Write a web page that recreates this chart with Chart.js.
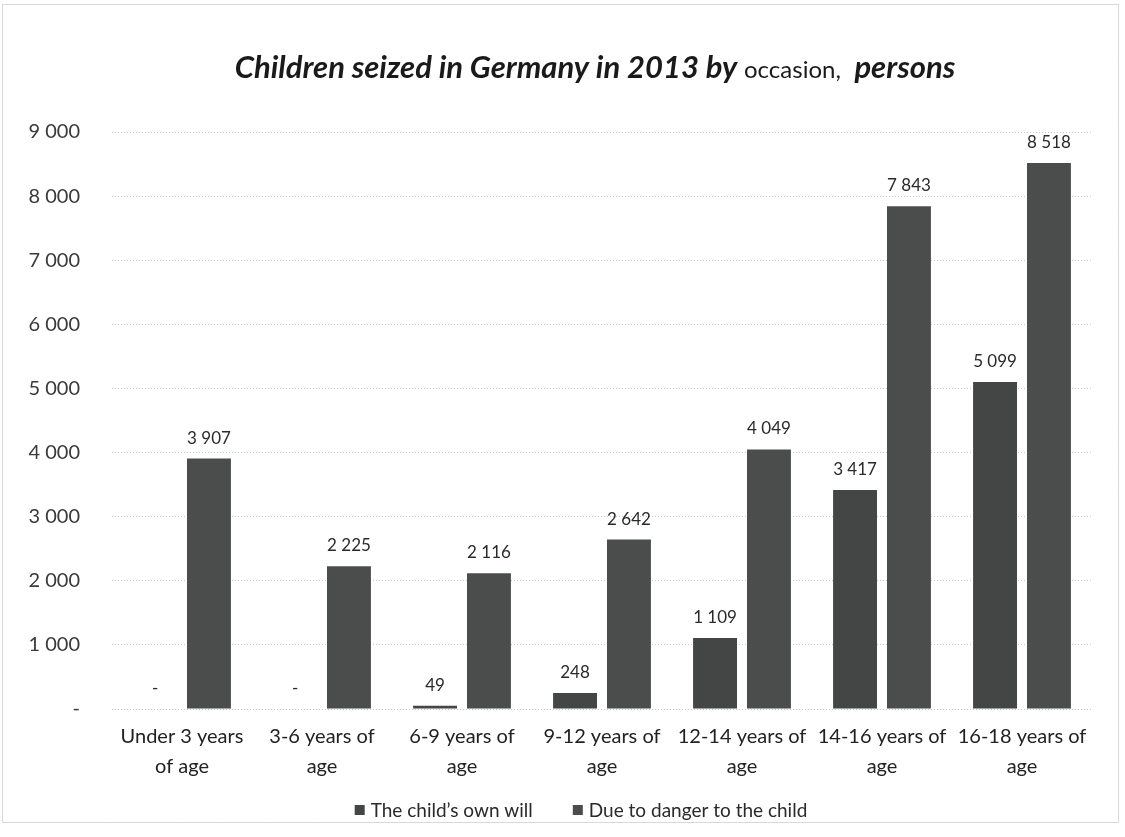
<!DOCTYPE html>
<html>
<head>
<meta charset="utf-8">
<script src="https://cdn.jsdelivr.net/npm/chart.js@4"></script>
<style>
  html, body { margin: 0; padding: 0; background: #fff; }
  #wrap { width: 1125px; height: 837px; position: relative; }
</style>
</head>
<body>
<div id="wrap"><canvas id="chart" width="1125" height="837"></canvas></div>
<script>
var ageGroups = [
    ['Under 3 years', 'of age'],
    ['3-6 years of', 'age'],
    ['6-9 years of', 'age'],
    ['9-12 years of', 'age'],
    ['12-14 years of', 'age'],
    ['14-16 years of', 'age'],
    ['16-18 years of', 'age']
];
var ownWill = [0, 0, 49, 248, 1109, 3417, 5099];
var danger = [3907, 2225, 2116, 2642, 4049, 7843, 8518];
var seriesNames = ["The child\u2019s own will", 'Due to danger to the child'];
var titleParts = [
    { text: 'Children seized in Germany in 2013 by ', font: 'italic bold 31px Lato' },
    { text: 'occasion,', font: '24px Lato' },
    { text: '  persons', font: 'italic bold 31px Lato' }
];

// 1 234 style numbers, zero shown as a dash
function fmt(v) {
    if (v === 0) return '-';
    return String(v).replace(/\B(?=(\d{3})+(?!\d))/g, ' ');
}

var frame = {
    id: 'frame',
    beforeDraw: function (chart) {
        var ctx = chart.ctx;
        ctx.save();
        ctx.strokeStyle = '#b0b0b0';
        ctx.setLineDash([1, 1]);
        ctx.lineWidth = 1;
        ctx.strokeRect(2.5, 4.5, 1116, 818);
        ctx.restore();
    }
};

var mixedTitle = {
    id: 'mixedTitle',
    afterDraw: function (chart) {
        var ctx = chart.ctx;
        ctx.save();
        ctx.fillStyle = '#1a1a1a';
        ctx.textBaseline = 'alphabetic';
        var total = 0;
        titleParts.forEach(function (p) { ctx.font = p.font; total += ctx.measureText(p.text).width; });
        var x = 595 - total / 2;
        titleParts.forEach(function (p) {
            ctx.font = p.font;
            ctx.fillText(p.text, x, 78);
            x += ctx.measureText(p.text).width;
        });
        ctx.restore();
    }
};

// legend row under the axis labels, built from the datasets
var bottomLegend = {
    id: 'bottomLegend',
    afterDraw: function (chart) {
        var ctx = chart.ctx;
        var box = 10, gap = 6, spacing = 40, y = 810;
        ctx.save();
        ctx.font = '19px Lato';
        ctx.textBaseline = 'middle';
        var items = chart.data.datasets.map(function (ds) {
            return { label: ds.label, color: ds.backgroundColor, w: box + gap + ctx.measureText(ds.label).width };
        });
        var total = items.reduce(function (s, it) { return s + it.w; }, 0) + spacing * (items.length - 1);
        var x = 581 - total / 2;
        items.forEach(function (it) {
            ctx.fillStyle = it.color;
            ctx.fillRect(x, y - box / 2, box, box);
            ctx.fillStyle = '#2a2a2a';
            ctx.fillText(it.label, x + box + gap, y + 1);
            x += it.w + spacing;
        });
        ctx.restore();
    }
};

var valueLabels = {
    id: 'valueLabels',
    afterDatasetsDraw: function (chart) {
        var ctx = chart.ctx;
        ctx.save();
        ctx.font = '17px Lato';
        ctx.fillStyle = '#2a2a2a';
        ctx.textAlign = 'center';
        ctx.textBaseline = 'bottom';
        chart.data.datasets.forEach(function (ds, i) {
            chart.getDatasetMeta(i).data.forEach(function (bar, j) {
                ctx.fillText(fmt(ds.data[j]), bar.x, bar.y - 12);
            });
        });
        ctx.restore();
    }
};

new Chart(document.getElementById('chart'), {
    type: 'bar',
    data: {
        labels: ageGroups,
        datasets: [{
            label: seriesNames[0],
            data: ownWill,
            backgroundColor: '#444645'
        }, {
            label: seriesNames[1],
            data: danger,
            backgroundColor: '#4b4d4c'
        }]
    },
    plugins: [frame, mixedTitle, valueLabels, bottomLegend],
    options: {
        responsive: false,
        animation: false,
        layout: { padding: { top: 132, right: 33, left: 12, bottom: 28 } },
        categoryPercentage: 0.77,
        barPercentage: 0.815,
        plugins: {
            legend: { display: false },
            tooltip: { enabled: false }
        },
        scales: {
            x: {
                grid: { display: false },
                border: { display: false },
                ticks: {
                    color: '#222',
                    font: { family: 'Lato', size: 20, lineHeight: 1.5 },
                    maxRotation: 0,
                    autoSkip: false,
                    padding: 5
                },
                afterFit: function (s) { s.height = 100; }
            },
            y: {
                min: 0,
                max: 9000,
                grid: { color: '#c8c8c8', drawTicks: false },
                border: { display: false, dash: [1, 2] },
                ticks: {
                    stepSize: 1000,
                    color: '#3a3a3a',
                    font: { family: 'Lato', size: 20 },
                    padding: 32,
                    callback: function (v) { return fmt(v); }
                },
                afterFit: function (s) { s.width = 100; }
            }
        }
    }
});
</script>
</body>
</html>
